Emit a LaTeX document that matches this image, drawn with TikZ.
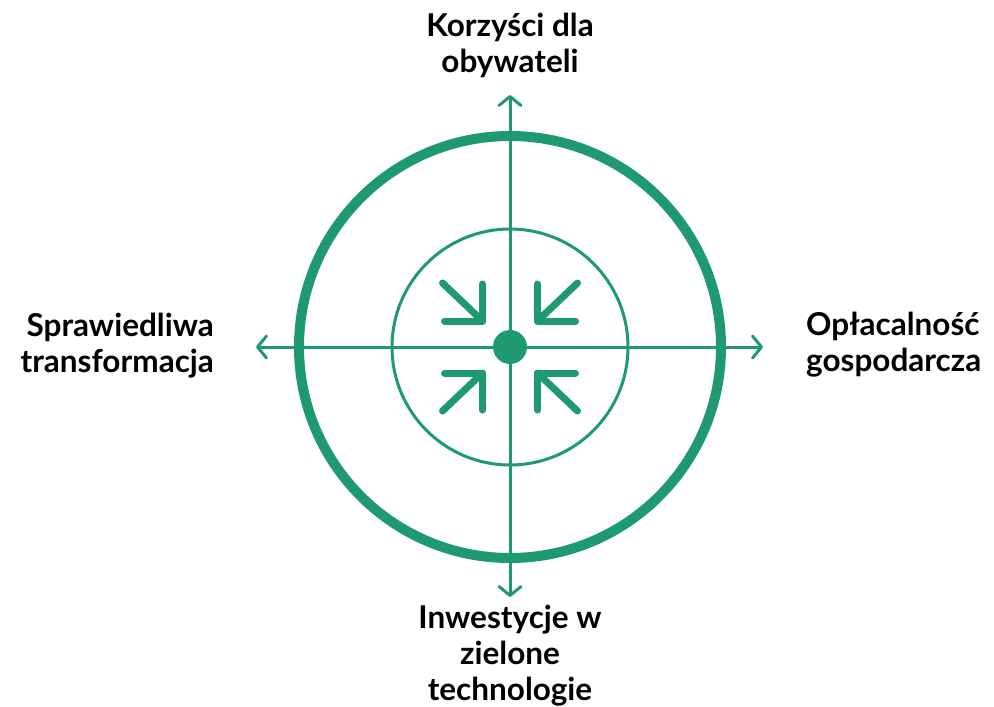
\documentclass[tikz,border=0pt]{standalone}
\usepackage{fontspec}
\setmainfont{Lato}
\usetikzlibrary{arrows.meta}
\definecolor{grn}{HTML}{1F9A6F}
\begin{document}
\begin{tikzpicture}[x=1pt,y=-1pt,
  axis/.style={draw=grn,line width=3pt,line cap=round,-{Straight Barb[length=9pt,width=22pt,round]}},
  lbl/.style={font=\fontsize{31.5}{36}\selectfont\bfseries,inner sep=0pt,text=black},
  inarrow/.style={draw=grn,line width=7pt,line cap=round,line join=round}]
\useasboundingbox (0,0) rectangle (994,707);
\coordinate (c) at (510,347);
\draw[grn,line width=10pt] (c) circle[radius=211pt];
\draw[grn,line width=3pt] (c) circle[radius=118pt];
\coordinate (nT) at (510,95);
\coordinate (nB) at (510,597);
\coordinate (nL) at (256,347);
\coordinate (nR) at (763,347);
\draw[axis] (c) -- (nT);
\draw[axis] (c) -- (nB);
\draw[axis] (c) -- (nL);
\draw[axis] (c) -- (nR);
\node[circle,fill=grn,minimum size=34pt,inner sep=0pt] (dot) at (c) {};
\foreach \sx/\sy in {-1/-1,1/-1,-1/1,1/1}{
  \coordinate (k) at ({510+27.5*\sx},{347+26*\sy});
  \draw[inarrow] ([xshift={38*\sx}]k) -- (k) -- ([yshift={-37*\sy}]k);
  \draw[inarrow] ([xshift={40*\sx},yshift={-38*\sy}]k) -- (k);
}
\node[lbl,align=center,anchor=base] (tTop) at (510,72) {Korzyści dla\\obywateli};
\node[lbl,align=right,anchor=base east] (tLeft) at (214,372) {Sprawiedliwa\\transformacja};
\node[lbl,align=left,anchor=base west] (tRight) at (806,371) {Opłacalność\\gospodarcza};
\node[lbl,align=center,anchor=base] (tBot) at (510,700) {Inwestycje w\\zielone\\technologie};
\end{tikzpicture}
\end{document}
